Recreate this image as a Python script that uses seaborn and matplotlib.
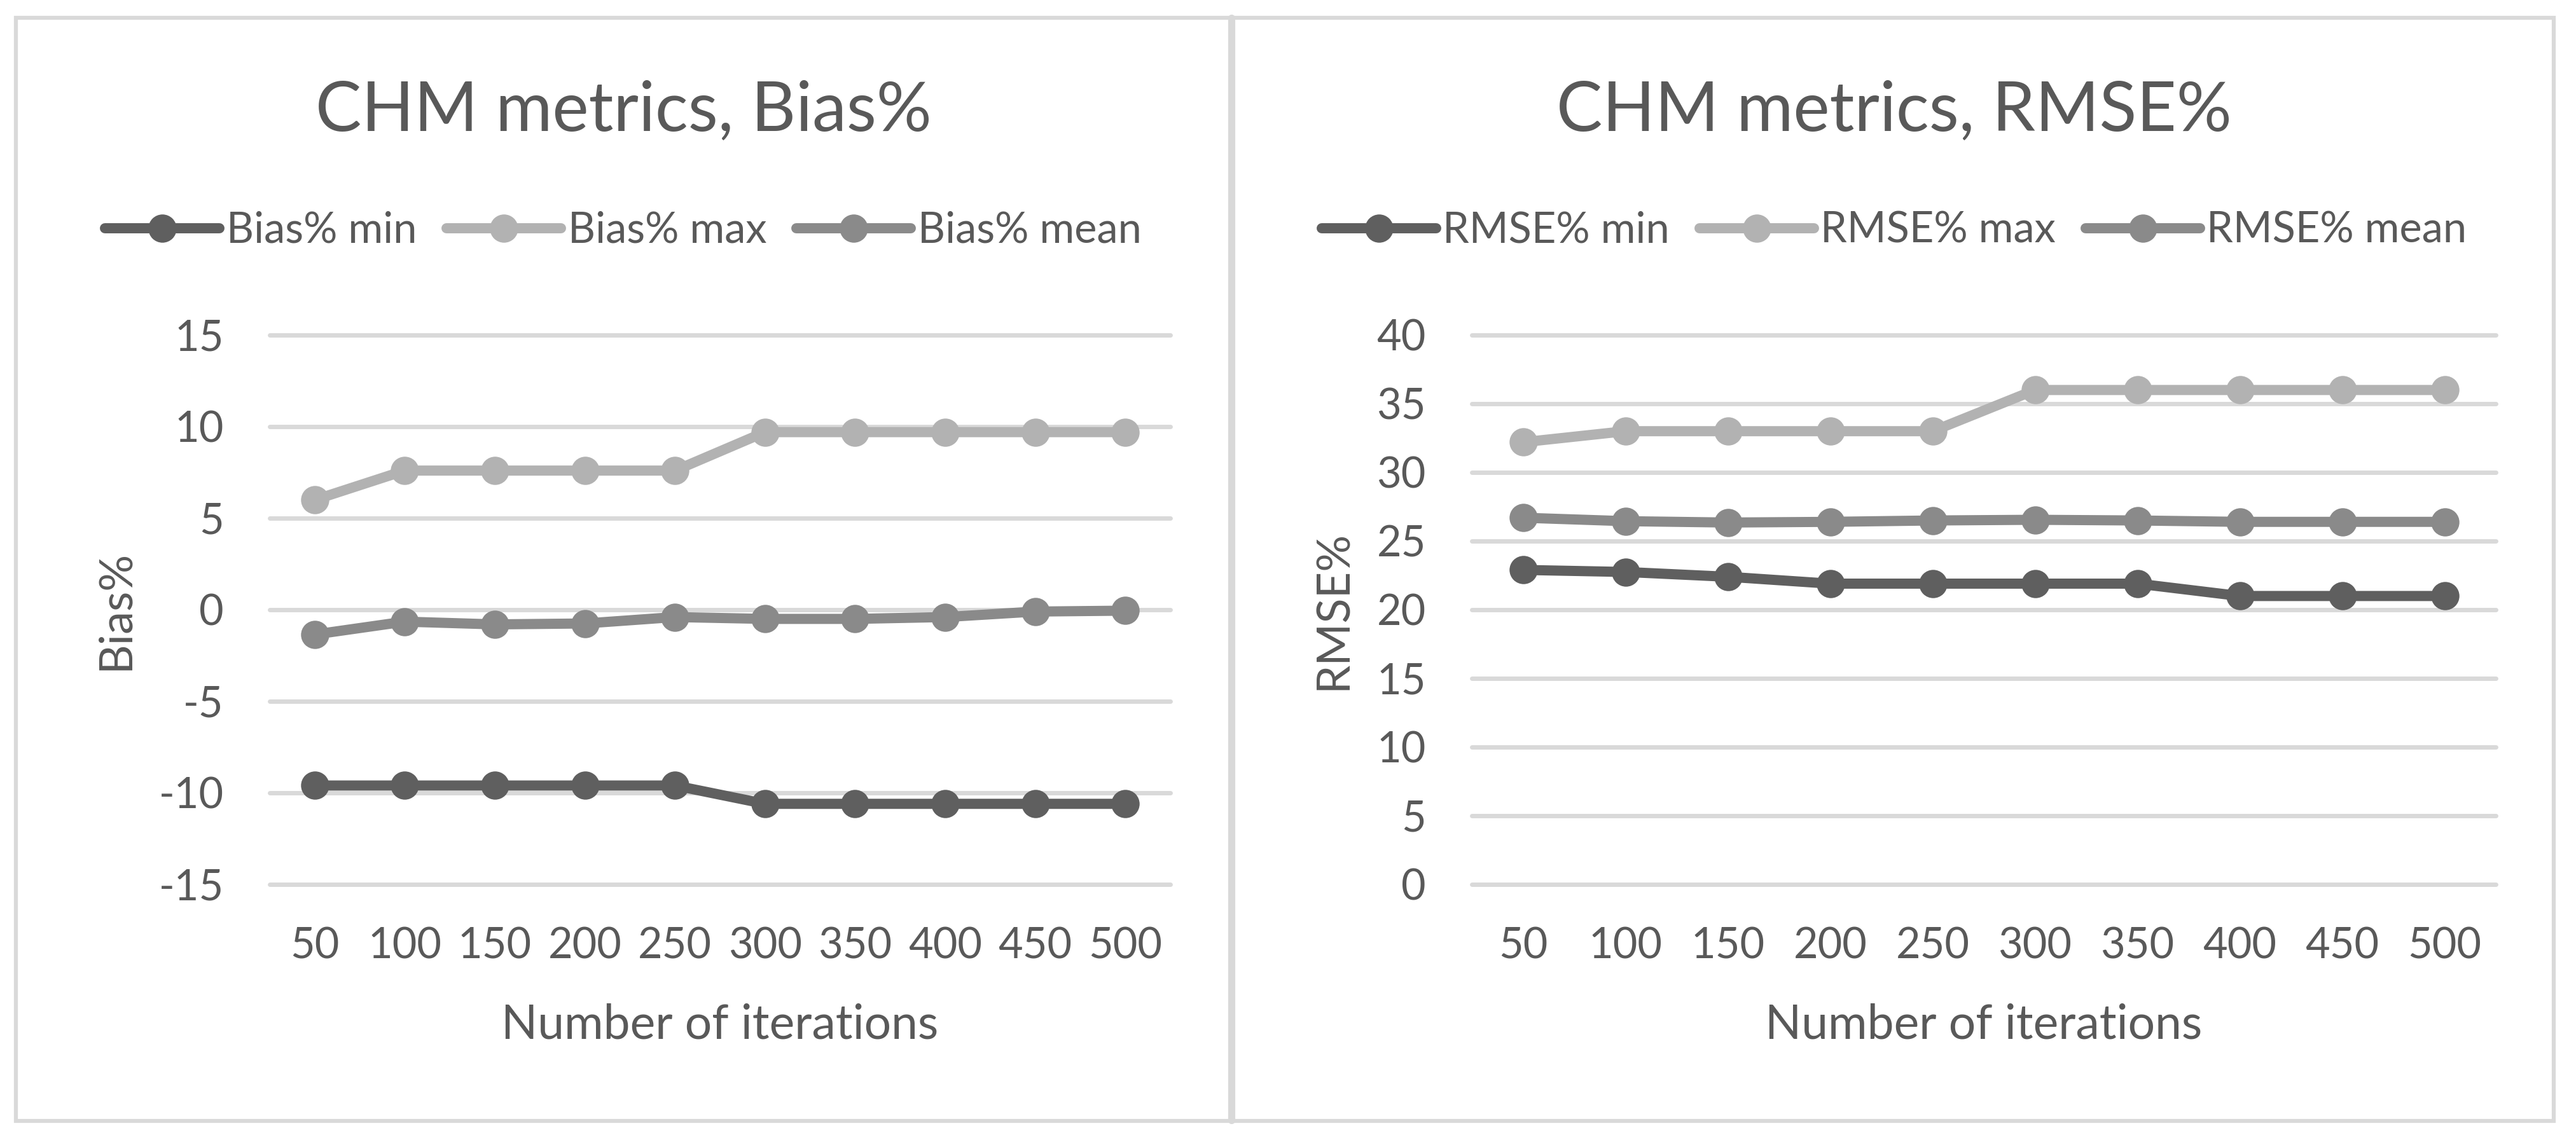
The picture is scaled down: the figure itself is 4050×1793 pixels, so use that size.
import numpy as np
import pandas as pd
import matplotlib
matplotlib.use("Agg")
import matplotlib.pyplot as plt
import seaborn as sns
from matplotlib.patches import Rectangle
from matplotlib.lines import Line2D

iterations = ["50", "100", "150", "200", "250", "300", "350", "400", "450", "500"]

bias_min = [-9.6, -9.6, -9.6, -9.6, -9.6, -10.6, -10.6, -10.6, -10.6, -10.6]
bias_max = [6.0, 7.6, 7.6, 7.6, 7.6, 9.7, 9.7, 9.7, 9.7, 9.7]
bias_mean = [-1.35, -0.65, -0.8, -0.75, -0.4, -0.5, -0.5, -0.4, -0.1, -0.05]

rmse_min = [22.9, 22.75, 22.4, 21.9, 21.9, 21.9, 21.9, 21.0, 21.0, 21.0]
rmse_max = [32.2, 33.0, 33.0, 33.0, 33.0, 36.0, 36.0, 36.0, 36.0, 36.0]
rmse_mean = [26.7, 26.45, 26.35, 26.4, 26.5, 26.55, 26.5, 26.4, 26.4, 26.4]

bias_ticks = [-15, -10, -5, 0, 5, 10, 15]
rmse_ticks = [0, 5, 10, 15, 20, 25, 30, 35, 40]

sns.set_theme(style="white")
plt.rcParams['font.family'] = ['Lato', 'DejaVu Sans']
plt.rcParams['axes.unicode_minus'] = False

TXT = "#595959"
GRID = "#d9d9d9"
colors = ["#5f5f5f", "#b2b2b2", "#8a8a8a"]

W, H = 4050, 1793
fig = plt.figure(figsize=(W / 100, H / 100), dpi=100)
fig.patch.set_facecolor("white")


def px(x0, y0, x1, y1):
    return [x0 / W, 1 - y1 / H, (x1 - x0) / W, (y1 - y0) / H]


# outer frame and divider
fig.patches.append(Rectangle((24.5 / W, 1 - 1762.5 / H), (4014.5 - 24.5) / W, (1762.5 - 28) / H,
                             transform=fig.transFigure, fill=False,
                             edgecolor=GRID, linewidth=4.5))
fig.lines.append(Line2D([1935.5 / W, 1935.5 / W], [1 - 28 / H, 1 - 1762 / H],
                        transform=fig.transFigure, color=GRID, linewidth=8))

LW = 11.5
MS = 32


def panel(rect, prefix, vals, ticks, ylabel, title, cx, ylab_x):
    ax = fig.add_axes(rect)
    names = [f"{prefix} min", f"{prefix} max", f"{prefix} mean"]
    rows = []
    for name, v in zip(names, vals):
        for i, val in enumerate(v):
            rows.append({"pos": i, "value": val, "series": name})
    df = pd.DataFrame(rows)
    sns.lineplot(data=df, x="pos", y="value", hue="series", hue_order=names,
                 palette=colors, marker="o", markersize=MS, linewidth=LW,
                 markeredgewidth=0, ax=ax, legend=False, zorder=3)
    ax.set_xlim(-0.5, len(iterations) - 0.5)
    ax.set_ylim(ticks[0], ticks[-1])
    ax.set_yticks(ticks)
    ax.set_yticklabels([str(t) for t in ticks])
    ax.set_xticks(range(len(iterations)))
    ax.set_xticklabels(iterations)
    for t in ticks:
        ax.axhline(t, color=GRID, linewidth=5, zorder=1, clip_on=False)
    for s in ax.spines.values():
        s.set_visible(False)
    ax.tick_params(axis="both", length=0, labelsize=48, colors=TXT)
    ax.tick_params(axis="y", pad=52)
    ax.tick_params(axis="x", pad=48)
    ax.set_xlabel("Number of iterations", fontsize=54, color=TXT, va="center")
    ax.set_ylabel(ylabel, fontsize=52, color=TXT, va="center")
    ax.xaxis.set_label_coords(0.5, (1391 - 1612) / (1391 - 527))
    ax.yaxis.set_label_coords(ylab_x, 0.5)
    ax.grid(False)
    fig.text(cx / W, 1 - 205 / H, title, ha="center", va="baseline",
             fontsize=78, color=TXT)
    handles = [Line2D([], [], color=c, linewidth=LW, marker="o",
                      markersize=MS, markeredgewidth=0) for c in colors]
    fig.legend(handles, names, loc="center", bbox_to_anchor=(cx / W, 1 - 363 / H),
               ncol=3, frameon=False, fontsize=48, labelcolor=TXT,
               handlelength=2.7, handletextpad=0.16, columnspacing=0.7,
               borderpad=0, borderaxespad=0)
    return ax


panel(px(424, 527, 1840, 1391), "Bias%", [bias_min, bias_max, bias_mean],
      bias_ticks, "Bias%", "CHM metrics, Bias%", 980, (181 - 424) / (1840 - 424))
panel(px(2314, 527, 3924, 1391), "RMSE%", [rmse_min, rmse_max, rmse_mean],
      rmse_ticks, "RMSE%", "CHM metrics, RMSE%", 2978, (2096 - 2314) / (3924 - 2314))

fig.savefig("out.png", dpi=100, facecolor="white")
